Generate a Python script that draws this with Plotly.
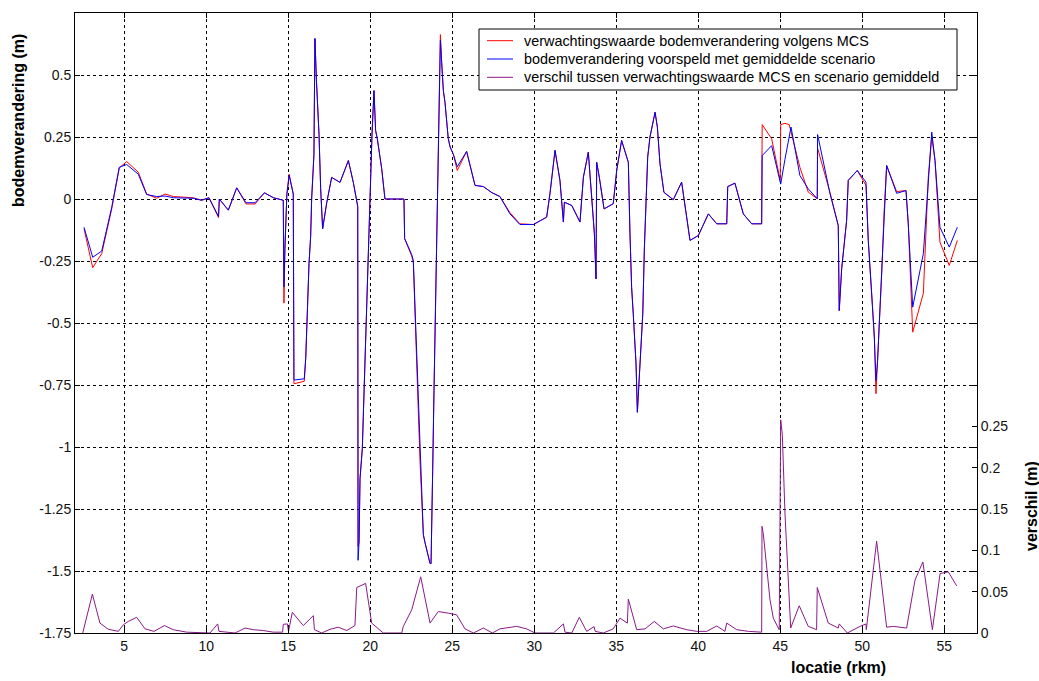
import plotly.graph_objects as go

# ---- data -------------------------------------------------------------
# river location (rkm) shared by the two bed-level change series
locatie = [
    2.55, 3.08, 3.63, 4.24, 4.70, 5.15, 5.86, 6.37, 6.98, 7.49, 8.00, 8.60, 9.20, 9.72,
    10.17, 10.75, 10.80, 11.35, 11.86, 12.43, 12.98, 13.55, 14.10, 14.70, 14.74, 14.80,
    14.92, 15.06, 15.31, 15.35, 15.98, 16.07, 16.17, 16.27, 16.37, 16.43, 16.57, 16.63,
    16.72, 16.82, 16.88, 16.98, 17.10, 17.35, 17.65, 18.16, 18.67, 18.97, 19.18, 19.24,
    19.26, 19.32, 19.38, 19.52, 19.58, 19.64, 19.68, 19.74, 19.80, 19.87, 19.93, 19.99,
    20.05, 20.11, 20.23, 20.33, 20.43, 20.70, 20.90, 22.06, 22.10, 22.53, 22.63, 22.73,
    22.83, 22.93, 23.04, 23.14, 23.24, 23.34, 23.44, 23.54, 23.65, 23.71, 23.75, 23.81,
    23.89, 23.95, 24.01, 24.09, 24.15, 24.21, 24.28, 24.36, 24.46, 24.56, 24.67, 24.76,
    24.87, 25.07, 25.31, 25.88, 26.39, 26.90, 27.41, 27.91, 28.52, 29.13, 29.95, 30.76,
    30.96, 31.27, 31.57, 31.78, 31.84, 32.29, 32.79, 33.00, 33.30, 33.51, 33.67, 33.77,
    33.81, 33.97, 34.26, 34.82, 35.03, 35.33, 35.74, 35.84, 35.94, 36.04, 36.14, 36.21,
    36.29, 36.41, 36.51, 36.62, 36.72, 36.82, 36.92, 37.06, 37.37, 37.51, 37.67, 37.91,
    38.48, 38.99, 39.50, 40.01, 40.62, 41.13, 41.74, 41.80, 42.24, 42.75, 43.26, 43.87,
    43.90, 44.48, 45.00, 45.03, 45.29, 45.55, 45.66, 46.20, 46.71, 47.26, 47.28, 48.04,
    48.54, 48.60, 48.75, 49.05, 49.15, 49.70, 50.23, 50.37, 50.58, 50.74, 50.84, 50.94,
    51.04, 51.19, 51.33, 51.49, 52.10, 52.67, 52.81, 53.08, 53.73, 54.03, 54.24, 54.44,
    54.74, 55.31, 55.80,
]

# expected bed-level change according to the Monte Carlo simulation (m)
mcs = [
    -0.120, -0.277, -0.220, -0.040, 0.125, 0.151, 0.108, 0.020, 0.003, 0.020, 0.010, 0.006,
    0.005, -0.005, 0.005, -0.075, 0.000, -0.045, 0.045, -0.020, -0.020, 0.025, 0.005,
    -0.005, -0.420, -0.200, 0.020, 0.100, 0.020, -0.745, -0.735, -0.640, -0.420, -0.260,
    -0.150, 0.000, 0.180, 0.647, 0.480, 0.370, 0.260, 0.042, -0.120, -0.015, 0.087, 0.067,
    0.155, 0.067, -0.006, -0.030, -1.400, -1.385, -1.127, -1.006, -0.876, -0.750, -0.627,
    -0.490, -0.353, -0.240, -0.135, -0.014, 0.130, 0.260, 0.437, 0.276, 0.244, 0.123,
    0.000, 0.000, -0.160, -0.230, -0.255, -0.430, -0.640, -0.850, -1.060, -1.240, -1.353,
    -1.385, -1.410, -1.440, -1.470, -1.470, -1.360, -1.095, -0.772, -0.555, -0.288, -0.030,
    0.250, 0.502, 0.663, 0.550, 0.437, 0.390, 0.308, 0.244, 0.210, 0.180, 0.115, 0.192,
    0.055, 0.050, 0.026, 0.010, -0.055, -0.100, -0.103, -0.073, 0.021, 0.196, 0.075,
    -0.093, -0.013, -0.026, -0.093, 0.088, 0.189, 0.007, -0.140, -0.322, 0.148, 0.088,
    -0.040, -0.019, 0.115, 0.236, 0.148, -0.140, -0.356, -0.463, -0.570, -0.665, -0.860,
    -0.732, -0.598, -0.462, -0.194, 0.021, 0.169, 0.250, 0.350, 0.290, 0.142, 0.027,
    -0.003, 0.068, -0.167, -0.147, -0.060, -0.100, -0.100, 0.050, 0.064, -0.060, -0.100,
    -0.100, 0.300, 0.243, 0.075, 0.300, 0.305, 0.300, 0.270, 0.128, 0.028, 0.001, 0.205,
    0.025, -0.107, -0.450, -0.280, -0.087, 0.075, 0.115, 0.055, -0.167, -0.380, -0.557,
    -0.785, -0.651, -0.503, -0.300, -0.060, 0.135, 0.030, 0.034, -0.100, -0.537, -0.380,
    0.088, 0.250, 0.155, -0.174, -0.268, -0.167,
]

# bed-level change predicted with the averaged scenario (m)
scenario = [
    -0.114, -0.235, -0.210, -0.033, 0.128, 0.139, 0.100, 0.018, 0.010, 0.012, 0.005, 0.004,
    0.003, -0.005, 0.005, -0.070, 0.000, -0.045, 0.045, -0.015, -0.015, 0.025, 0.005,
    -0.005, -0.355, -0.200, 0.020, 0.095, 0.020, -0.730, -0.725, -0.640, -0.420, -0.260,
    -0.150, 0.000, 0.180, 0.647, 0.480, 0.370, 0.260, 0.042, -0.120, -0.015, 0.087, 0.067,
    0.155, 0.067, -0.006, -0.030, -1.457, -1.385, -1.127, -1.006, -0.876, -0.750, -0.627,
    -0.490, -0.353, -0.240, -0.135, -0.014, 0.130, 0.260, 0.437, 0.276, 0.244, 0.123,
    0.000, 0.000, -0.159, -0.224, -0.248, -0.430, -0.640, -0.850, -1.060, -1.240, -1.353,
    -1.385, -1.410, -1.440, -1.470, -1.470, -1.360, -1.095, -0.772, -0.555, -0.288, -0.030,
    0.250, 0.502, 0.640, 0.550, 0.437, 0.390, 0.308, 0.244, 0.210, 0.180, 0.130, 0.192,
    0.055, 0.050, 0.026, 0.010, -0.060, -0.103, -0.103, -0.073, 0.021, 0.196, 0.075,
    -0.093, -0.013, -0.026, -0.093, 0.088, 0.189, 0.007, -0.140, -0.322, 0.148, 0.088,
    -0.040, -0.019, 0.115, 0.236, 0.148, -0.140, -0.356, -0.463, -0.570, -0.665, -0.860,
    -0.732, -0.598, -0.462, -0.194, 0.021, 0.169, 0.250, 0.350, 0.290, 0.142, 0.027,
    -0.003, 0.068, -0.167, -0.147, -0.060, -0.100, -0.100, 0.050, 0.064, -0.060, -0.100,
    -0.100, 0.175, 0.215, 0.061, 0.060, 0.160, 0.250, 0.290, 0.095, 0.041, 0.001, 0.260,
    0.021, -0.107, -0.450, -0.280, -0.087, 0.075, 0.115, 0.068, -0.167, -0.380, -0.557,
    -0.732, -0.651, -0.503, -0.300, -0.060, 0.135, 0.023, 0.034, -0.100, -0.436, -0.220,
    0.088, 0.270, 0.155, -0.114, -0.194, -0.114,
]

# difference between MCS expectation and averaged scenario (right axis, m)
locatie_verschil = [
    2.47, 3.06, 3.52, 4.03, 4.64, 4.95, 5.25, 5.76, 6.27, 6.82, 7.45, 7.99, 8.81, 9.82,
    10.23, 10.70, 10.78, 11.76, 12.37, 12.87, 13.48, 14.09, 14.66, 14.70, 14.95, 15.02,
    15.25, 15.92, 16.53, 16.60, 17.04, 17.55, 18.05, 18.57, 19.07, 19.18, 19.72, 20.09,
    20.80, 21.92, 22.02, 22.53, 23.08, 23.65, 24.15, 24.76, 25.27, 25.78, 26.29, 26.90,
    27.45, 27.91, 28.93, 29.54, 30.05, 31.17, 31.78, 31.88, 32.29, 32.75, 33.20, 33.65,
    33.72, 34.21, 34.82, 35.23, 35.68, 35.74, 36.25, 36.76, 37.32, 37.87, 38.48, 39.30,
    39.91, 40.52, 41.13, 41.63, 41.74, 42.35, 43.06, 43.87, 43.89, 43.97, 44.38, 44.58,
    44.94, 45.03, 45.13, 45.29, 45.43, 45.64, 46.16, 46.71, 47.22, 47.26, 47.93, 48.54,
    48.60, 49.09, 49.87, 50.23, 50.25, 50.88, 51.49, 51.90, 52.71, 53.22, 53.70, 54.28,
    54.75, 55.25, 55.76,
]
verschil = [
    0.000, 0.047, 0.012, 0.0045, 0.002, 0.010, 0.014, 0.019, 0.005, 0.002, 0.009, 0.004,
    0.001, 0.000, 0.000, 0.011, 0.002, 0.000, 0.006, 0.004, 0.003, 0.001, 0.001, 0.0105,
    0.011, 0.002, 0.025, 0.009, 0.021, 0.004, 0.000, 0.0045, 0.007, 0.003, 0.009, 0.055,
    0.060, 0.012, 0.000, 0.000, 0.008, 0.028, 0.068, 0.012, 0.026, 0.024, 0.022, 0.005,
    0.000, 0.006, 0.000, 0.005, 0.008, 0.005, 0.000, 0.000, 0.011, 0.001, 0.000, 0.019,
    0.002, 0.0077, 0.002, 0.000, 0.005, 0.018, 0.012, 0.041, 0.004, 0.005, 0.014, 0.005,
    0.0085, 0.004, 0.002, 0.002, 0.0085, 0.002, 0.012, 0.004, 0.002, 0.001, 0.129, 0.120,
    0.040, 0.018, 0.004, 0.258, 0.240, 0.145, 0.084, 0.006, 0.033, 0.008, 0.004, 0.055,
    0.012, 0.006, 0.011, 0.000, 0.008, 0.011, 0.004, 0.111, 0.007, 0.008, 0.006, 0.064,
    0.086, 0.004, 0.072, 0.074, 0.057,
]

x_ticks = [5, 10, 15, 20, 25, 30, 35, 40, 45, 50, 55]
y_ticks = [0.5, 0.25, 0, -0.25, -0.5, -0.75, -1, -1.25, -1.5, -1.75]
y_labels = ["0.5", "0.25", "0", "-0.25", "-0.5", "-0.75", "-1", "-1.25", "-1.5", "-1.75"]
y2_ticks = [0, 0.05, 0.1, 0.15, 0.2, 0.25]
y2_labels = ["0", "0.05", "0.1", "0.15", "0.2", "0.25"]

names = [
    "verwachtingswaarde bodemverandering volgens MCS",
    "bodemverandering voorspeld met gemiddelde scenario",
    "verschil tussen verwachtingswaarde MCS en scenario gemiddeld",
]
colors = ["#ff0000", "#0000ff", "#8a1a8a"]

# ---- layout geometry (pixels) ------------------------------------------
W, H = 1039, 681
L, R, T, B = 75, 977, 13, 633
FONT = "Liberation Sans, Arial, sans-serif"


def fx(px):
    return (px - L) / (R - L)


def fy(py):
    return (B - py) / (B - T)


fig = go.Figure()
fig.add_trace(go.Scatter(x=locatie, y=mcs, mode="lines", name=names[0],
                         line=dict(color=colors[0], width=1)))
fig.add_trace(go.Scatter(x=locatie, y=scenario, mode="lines", name=names[1],
                         line=dict(color=colors[1], width=1)))
fig.add_trace(go.Scatter(x=locatie_verschil, y=verschil, mode="lines", name=names[2],
                         yaxis="y2", line=dict(color=colors[2], width=1)))

axis_common = dict(
    showline=True, linecolor="black", linewidth=1,
    ticks="inside", ticklen=5, tickcolor="black",
    tickfont=dict(family=FONT, size=14, color="#111"),
    zeroline=False,
)

fig.update_layout(
    width=W, height=H,
    margin=dict(l=L, r=W - R, t=T, b=H - B),
    paper_bgcolor="white", plot_bgcolor="white",
    showlegend=False,
    xaxis=dict(range=[2, 57], tickvals=x_ticks, mirror="ticks",
               showgrid=True, gridcolor="black", gridwidth=1, griddash="3px,3px",
               **axis_common),
    yaxis=dict(range=[-1.75, 0.75], tickvals=y_ticks, ticktext=y_labels, mirror="ticks",
               showgrid=True, gridcolor="black", gridwidth=1, griddash="3px,3px",
               **axis_common),
    yaxis2=dict(range=[0, 0.75], tickvals=y2_ticks, ticktext=y2_labels,
                overlaying="y", side="right", showgrid=False, **axis_common),
)

# axis titles
title_font = dict(family=FONT, size=16, color="black", weight="bold")
fig.add_annotation(text="bodemverandering (m)", xref="paper", yref="paper",
                   x=fx(18), y=fy(121), textangle=-90, showarrow=False,
                   xanchor="center", yanchor="middle", font=title_font)
fig.add_annotation(text="verschil (m)", xref="paper", yref="paper",
                   x=fx(1031), y=fy(506), textangle=-90, showarrow=False,
                   xanchor="center", yanchor="middle", font=title_font)
fig.add_annotation(text="locatie (rkm)", xref="paper", yref="paper",
                   x=fx(838), y=fy(667), showarrow=False,
                   xanchor="center", yanchor="middle", font=title_font)

# legend box
lg_x0, lg_x1, lg_y0, lg_y1 = 479, 957, 29, 90
fig.add_shape(type="rect", xref="paper", yref="paper", layer="above",
              x0=fx(lg_x0), x1=fx(lg_x1), y0=fy(lg_y1), y1=fy(lg_y0),
              line=dict(color="black", width=1), fillcolor="white")
for i, (name, col) in enumerate(zip(names, colors)):
    yy = 40.7 + i * 18.3
    fig.add_shape(type="line", xref="paper", yref="paper", layer="above",
                  x0=fx(487), x1=fx(513), y0=fy(yy), y1=fy(yy),
                  line=dict(color=col, width=1))
    fig.add_annotation(text=name, xref="paper", yref="paper",
                       x=fx(522), y=fy(yy), showarrow=False,
                       xanchor="left", yanchor="middle",
                       font=dict(family=FONT, size=14.4, color="black"))

fig.write_html("out.html")
